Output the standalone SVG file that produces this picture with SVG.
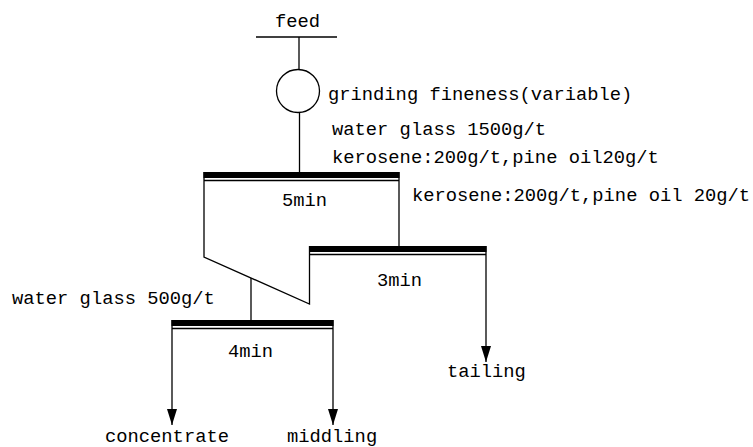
<svg xmlns="http://www.w3.org/2000/svg" width="753" height="447" viewBox="0 0 753 447">
<style>
text{font-family:"Liberation Mono","DejaVu Sans Mono",monospace;font-size:18.8px;fill:#000}
.ln{stroke:#000;stroke-width:1.3;fill:none}
.bar{fill:#000}
</style>
<defs>
<marker id="ah" viewBox="0 0 16 10" refX="16" refY="5" markerWidth="16" markerHeight="10" markerUnits="userSpaceOnUse" orient="auto">
<path d="M0,0 L16,5 L0,10 Z" fill="#000"/>
</marker>
</defs>
<rect width="753" height="447" fill="#fff"/>
<g id="feed">
<text x="275" y="27">feed</text>
<line class="ln" x1="256" y1="37" x2="337" y2="37"/>
</g>
<g id="mill">
<ellipse class="ln" cx="298" cy="91" rx="21.5" ry="21.5"/>
<text x="328" y="100">grinding fineness(variable)</text>
</g>
<g id="reagents1">
<text x="332" y="135">water glass 1500g/t</text>
<text x="332" y="163">kerosene:200g/t,pine oil20g/t</text>
</g>
<g id="cell1">
<rect class="bar" x="203.5" y="172" width="196" height="6"/>
<line class="ln" x1="204" y1="180.5" x2="399" y2="180.5"/>
<text x="282" y="206">5min</text>
</g>
<g id="reagents2">
<text x="412" y="201">kerosene:200g/t,pine oil 20g/t</text>
</g>
<g id="cell2">
<rect class="bar" x="309" y="246" width="177.5" height="6"/>
<line class="ln" x1="309" y1="254.5" x2="486" y2="254.5"/>
<text x="377" y="286">3min</text>
</g>
<g id="reagents3">
<text x="12" y="304">water glass 500g/t</text>
</g>
<g id="cell3">
<rect class="bar" x="171.5" y="320" width="162" height="6"/>
<line class="ln" x1="172" y1="328.5" x2="333" y2="328.5"/>
<text x="228" y="357">4min</text>
</g>
<g id="tailing"><text x="447" y="377">tailing</text></g>
<g id="concentrate"><text x="105" y="442">concentrate</text></g>
<g id="middling"><text x="287" y="442">middling</text></g>
<g id="connectors">
<line class="ln" x1="299" y1="37" x2="299" y2="69.5"/>
<line class="ln" x1="299.5" y1="112.5" x2="299.5" y2="172"/>
<polyline class="ln" points="204,172 204,257 309.5,304 309.5,246"/>
<line class="ln" x1="399" y1="172" x2="399" y2="246"/>
<line class="ln" x1="251" y1="278" x2="251" y2="320"/>
<line class="ln" x1="486" y1="246" x2="486" y2="362" marker-end="url(#ah)"/>
<line class="ln" x1="172" y1="320" x2="172" y2="425" marker-end="url(#ah)"/>
<line class="ln" x1="333" y1="320" x2="333" y2="425" marker-end="url(#ah)"/>
</g>
</svg>
